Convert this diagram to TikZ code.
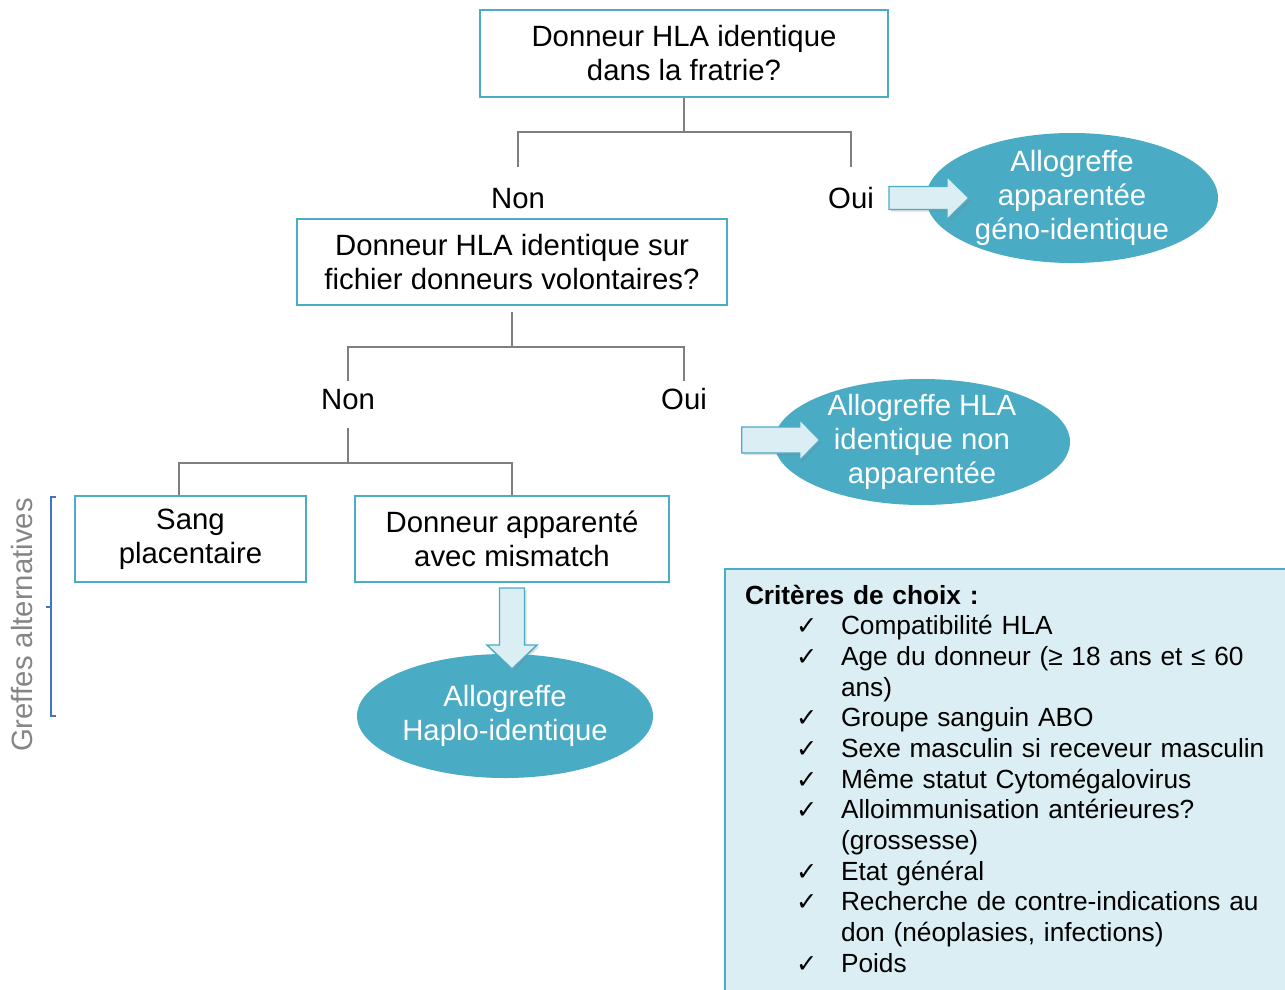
\documentclass[tikz,border=0pt]{standalone}
\usepackage{fontspec}
\setmainfont{Liberation Sans}
\newfontfamily\symb{DejaVu Sans}
\usetikzlibrary{shapes.geometric, shadows}

\definecolor{boxline}{HTML}{4BACC6}
\definecolor{resfill}{HTML}{4AABC5}
\definecolor{palefill}{HTML}{DAEEF3}
\definecolor{linkgray}{HTML}{7F7F7F}
\definecolor{bracecol}{HTML}{4472C4}
\definecolor{sidegray}{HTML}{858585}

\newcommand{\critem}{\hspace*{38.25pt}\makebox[33.75pt][l]{\symb\fontsize{19}{19}\selectfont ✓}}
\newcommand{\critcont}{\hspace*{72pt}}

\begin{document}
\begin{tikzpicture}[x=0.75pt, y=-0.75pt, font=\fontsize{22}{25.5}\selectfont,
	question/.style={draw=boxline, line width=1.5pt, fill=white, align=center, inner sep=0pt},
	answer/.style={inner sep=0pt, text height=16pt, text depth=0pt},
	result/.style={ellipse, fill=resfill, text=white, align=center, inner xsep=-3pt, inner ysep=-3pt},
	link/.style={draw=linkgray, line width=1.5pt},
	bigarrow/.style={fill=palefill, draw=boxline, line width=1.1pt, line join=miter,
		drop shadow={opacity=0.25, shadow xshift=1.5pt, shadow yshift=-1.5pt}},
	critbox/.style={draw=boxline, fill=palefill, line width=1.5pt, align=left, text width=400pt,
		inner xsep=15pt, inner ysep=12pt, font=\fontsize{19.7}{23}\selectfont}]

\useasboundingbox (0,0) rectangle (1285,989);

% first question
\node[question, minimum width=306pt, minimum height=65.25pt] (q1) at (684,53.5) {Donneur HLA identique\\dans la fratrie?};
\node[answer] (non1) at (518,198) {Non};
\node[answer] (oui1) at (851,198) {Oui};
\node[result, minimum width=219pt, minimum height=97.5pt] (geno) at (1072,198) {Allogreffe\\apparentée\\géno-identique};

% second question
\node[question, minimum width=322.5pt, minimum height=64.5pt] (q2) at (512,262) {Donneur HLA identique sur\\fichier donneurs volontaires?};
\node[answer] (non2) at (348,399) {Non};
\node[answer] (oui2) at (684,399) {Oui};
\node[result, minimum width=222pt, minimum height=94.5pt] (nonapp) at (922,442) {Allogreffe HLA\\identique non\\apparentée};

% alternatives
\node[question, minimum width=173.25pt, minimum height=64.5pt] (sang) at (190.5,539) {Sang\\placentaire};
\node[question, minimum width=235.5pt, minimum height=64.5pt] (mismatch) at (512,539) {Donneur apparenté\\avec mismatch};
\node[result, minimum width=222pt, minimum height=93pt] (haplo) at (505,716) {Allogreffe\\Haplo-identique};

\draw[bracecol, line width=1.1pt] (56,497) -- (51,497) -- (51,716) -- (56,716);
\draw[bracecol, line width=1.1pt] (51,607) -- (46,607);
\node[rotate=90, text=sidegray] (greffes) at (22,625) {Greffes alternatives};

% tree lines
\draw[link] (q1.south) -- ++(0,34) coordinate (j1);
\draw[link] (j1) -| ([yshift=15pt]non1.north);
\draw[link] (j1) -| ([yshift=15pt]oui1.north);

\draw[link] ([yshift=-4.5pt]q2.south) -- ++(0,35) coordinate (j2);
\draw[link] (j2) -| ([yshift=5.5pt]non2.north);
\draw[link] (j2) -| ([yshift=5.5pt]oui2.north);

\draw[link] ([yshift=-13.5pt]non2.south) -- ++(0,35) coordinate (j3);
\draw[link] (j3) -| ([xshift=-8.5pt]sang.north);
\draw[link] (j3) -| (mismatch.north);

% block arrows
\path[bigarrow] (oui1 -| q1.east) ++(0,-11.5) -- ++(58,0) -- ++(0,-10) -- ++(22,21.5)
	-- ++(-22,21.5) -- ++(0,-10) -- ++(-58,0) -- cycle;
\path[bigarrow] (nonapp.west) ++(-32,-15) -- ++(58,0) -- ++(0,-7.5) -- ++(20,20.5)
	-- ++(-20,20.5) -- ++(0,-7.5) -- ++(-58,0) -- cycle;
\path[bigarrow] (mismatch.south) ++(-12.5,5) -- ++(0,57) -- ++(-12.5,0) -- ++(25,24)
	-- ++(25,-24) -- ++(-12.5,0) -- ++(0,-57) -- cycle;

% criteria
\node[critbox, anchor=north west] (crit) at (724,568) {\textbf{Critères de choix :}\\
\critem Compatibilité HLA\\
\critem Age du donneur (≥ 18 ans et ≤ 60\\
\critcont ans)\\
\critem Groupe sanguin ABO\\
\critem Sexe masculin si receveur masculin\\
\critem Même statut Cytomégalovirus\\
\critem Alloimmunisation antérieures?\\
\critcont (grossesse)\\
\critem Etat général\\
\critem Recherche de contre-indications au\\
\critcont don (néoplasies, infections)\\
\critem Poids\\
\mbox{}};

\end{tikzpicture}
\end{document}
